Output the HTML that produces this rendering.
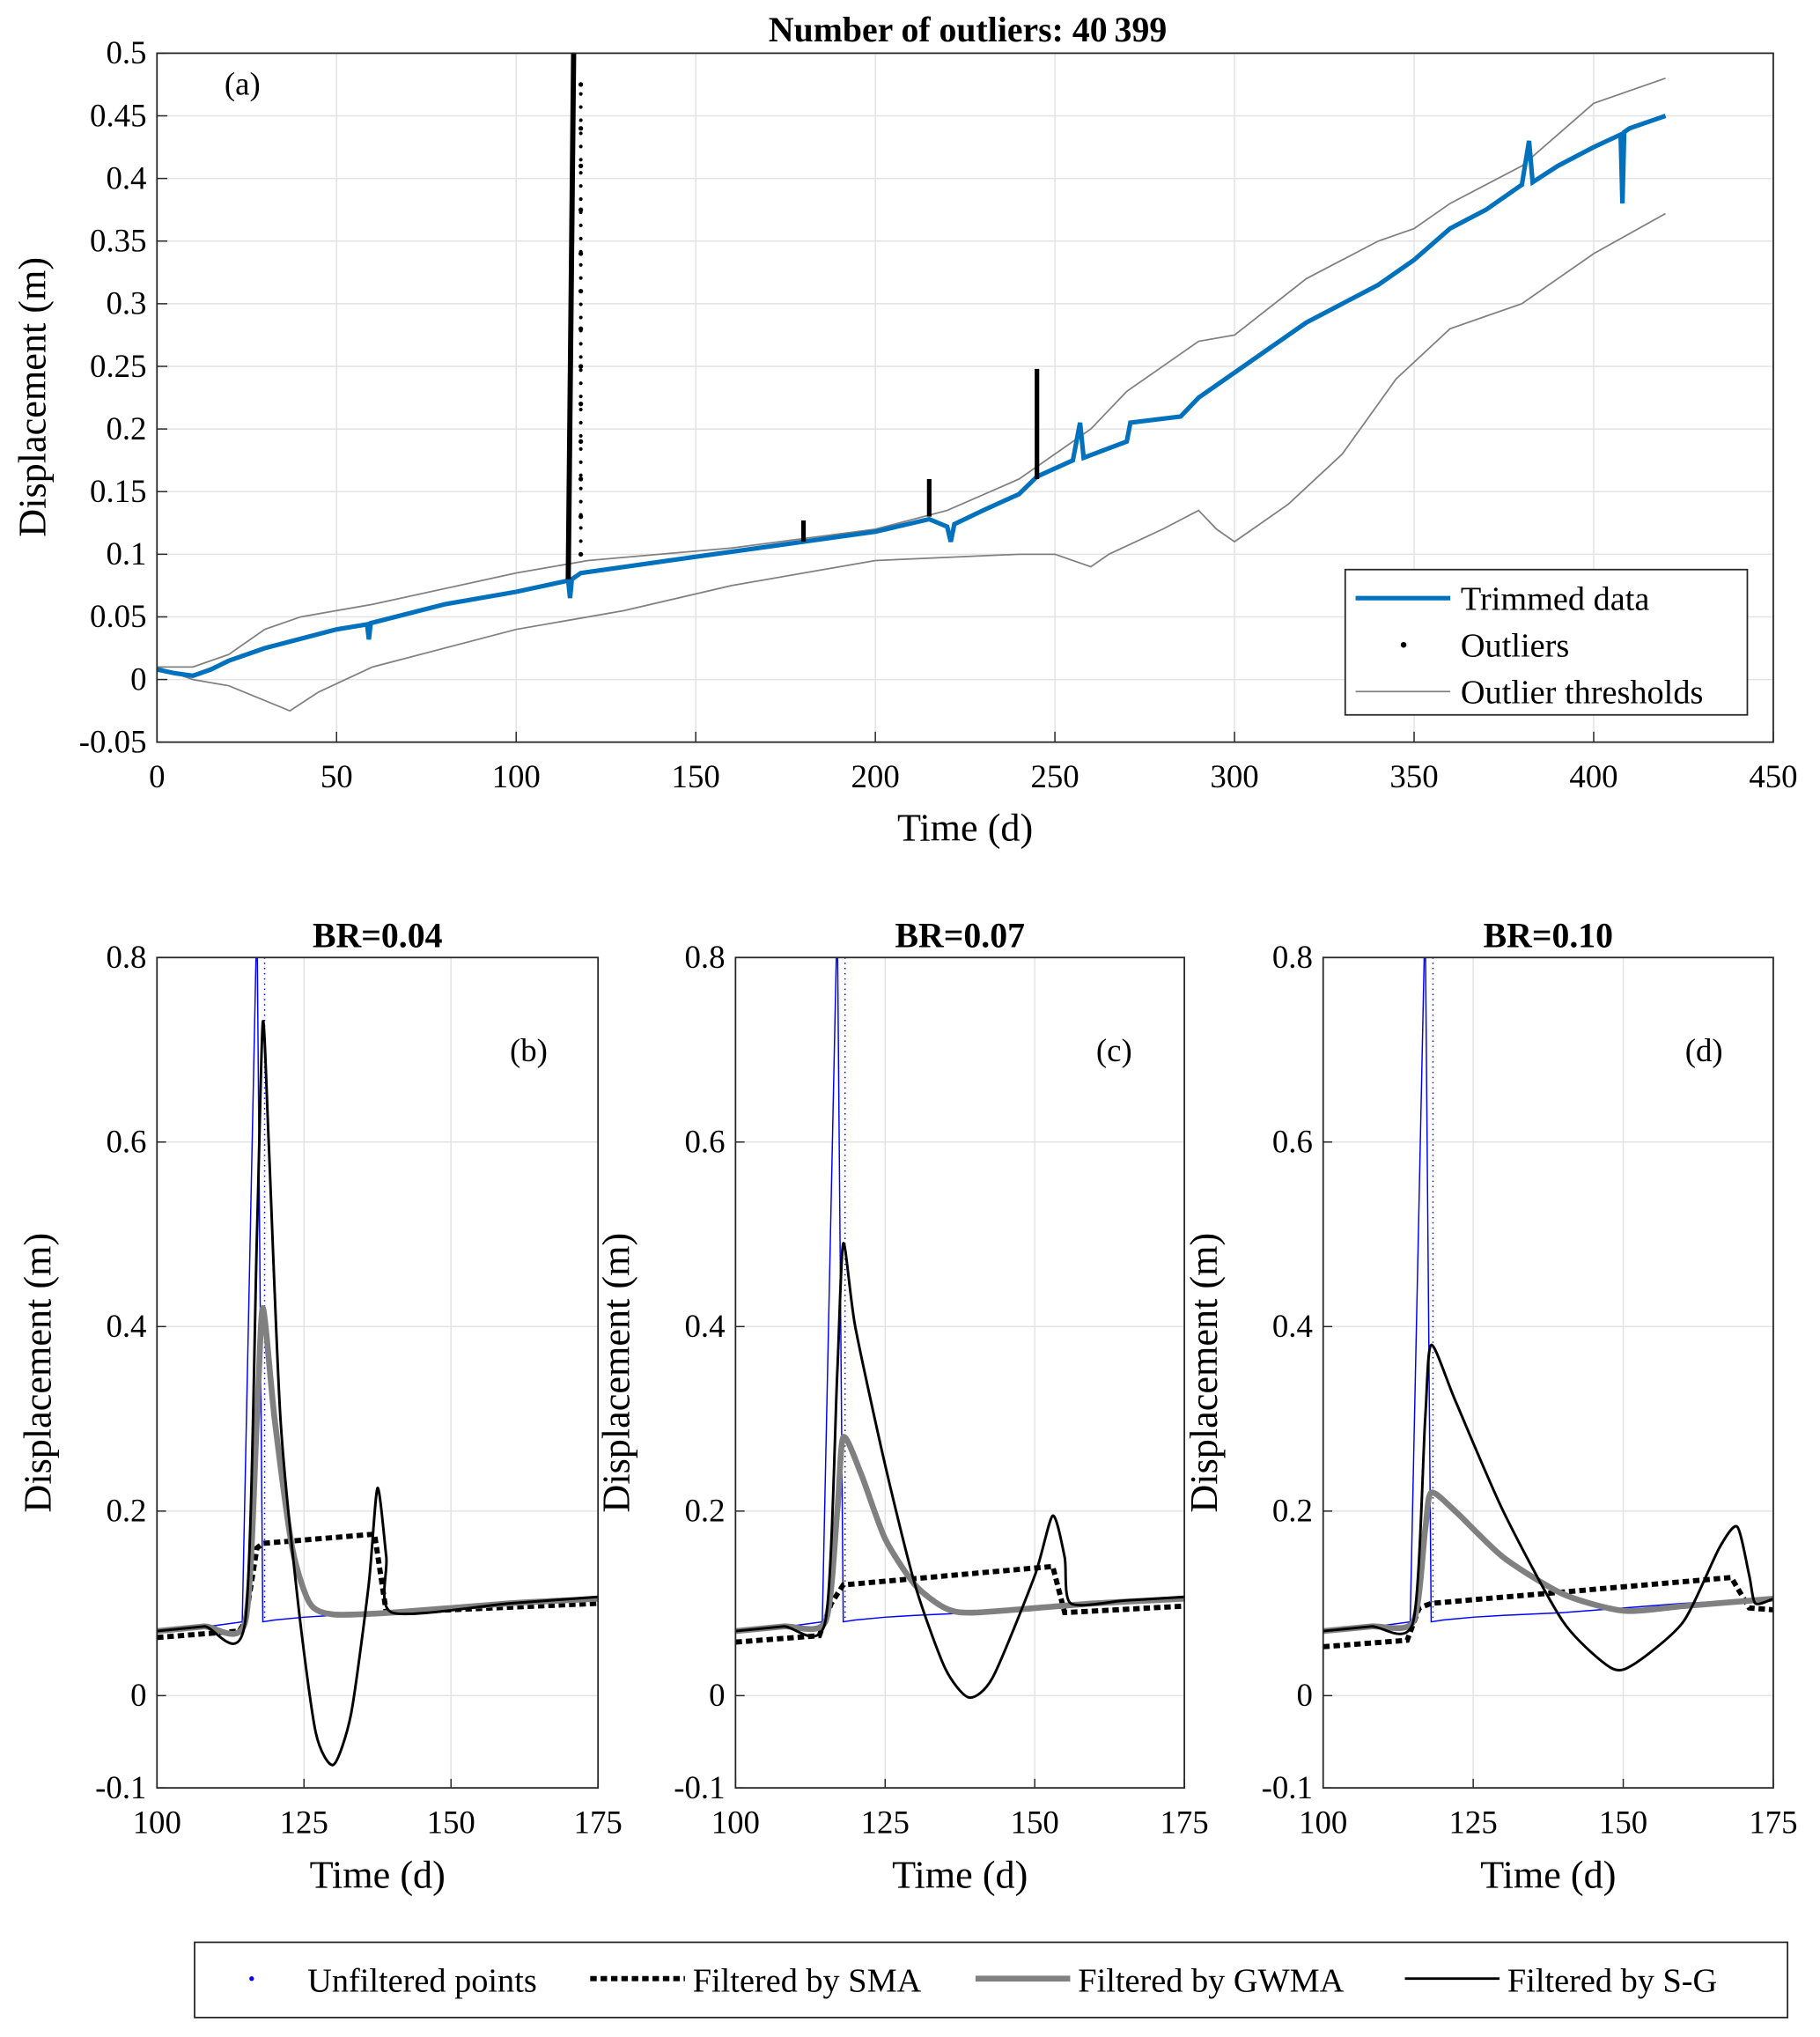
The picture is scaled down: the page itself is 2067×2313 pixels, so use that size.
<!DOCTYPE html>
<html><head><meta charset="utf-8"><style>
html,body{margin:0;padding:0;background:#fff;}
svg{display:block;font-family:"Liberation Serif",serif;}
svg text{font-family:"Liberation Serif",serif;}
</style></head><body>
<svg id="fig" width="2067" height="2313" viewBox="0 0 1403 1570" xmlns="http://www.w3.org/2000/svg" font-family="Liberation Serif, serif"></svg>
<script>
// ---- Panel (a) data ----
const aTrimT=[0,5,10,15,20,30,50,58.5,59,59.5,80,100,114.5,115,115.5,118,150,180,200,215,220,221,222,230,240,245,255,257,258,270,271,285,290,300,310,320,330,340,350,360,370,380,382,383,390,400,407.5,408,408.5,410,420];
const aTrimV=[0.008,0.005,0.003,0.008,0.015,0.025,0.04,0.044,0.032,0.045,0.06,0.07,0.079,0.065,0.08,0.085,0.098,0.11,0.118,0.128,0.122,0.11,0.124,0.135,0.148,0.162,0.175,0.205,0.177,0.19,0.205,0.21,0.225,0.245,0.265,0.285,0.3,0.315,0.335,0.36,0.375,0.395,0.43,0.397,0.41,0.425,0.435,0.38,0.437,0.44,0.45];
const aUpT=[0,10,20,30,40,60,100,120,160,200,220,240,260,270,290,300,320,340,350,360,380,400,410,420];
const aUpV=[0.01,0.01,0.02,0.04,0.05,0.06,0.085,0.095,0.105,0.12,0.135,0.16,0.2,0.23,0.27,0.275,0.32,0.35,0.36,0.38,0.41,0.46,0.47,0.48];
const aLoT=[0,10,20,37,45,60,100,130,160,200,240,250,260,265,280,290,295,300,315,330,345,360,380,400,420];
const aLoV=[0.01,0,-0.005,-0.025,-0.01,0.01,0.04,0.055,0.075,0.095,0.1,0.1,0.09,0.1,0.12,0.135,0.12,0.11,0.14,0.18,0.24,0.28,0.3,0.34,0.372];
const aOutLineT0=[114.5,180,215,245];
const aOutLineT1=[116,180,215,245];
const aOutLo=[0.08,0.11,0.13,0.16];
const aOutHi=[0.5,0.127,0.16,0.248];
const aOutDots=[0.1,0.13,0.16,0.19,0.22,0.25,0.28,0.31,0.34,0.375,0.41,0.44,0.475];
const aTicksX=[0,50,100,150,200,250,300,350,400,450];
const aTicksY=[-0.05,0,0.05,0.1,0.15,0.2,0.25,0.3,0.35,0.4,0.45,0.5];
const aTickLabelsY=["-0.05","0","0.05","0.1","0.15","0.2","0.25","0.3","0.35","0.4","0.45","0.5"];
// ---- Bottom panels data ----
const subTitles=["BR=0.04","BR=0.07","BR=0.10"];
const subTags=["(b)","(c)","(d)"];
const rawT=[100,105,110,114.5,117,118,120,125,130,140,150,160,175];
const rawV=[0.07,0.073,0.076,0.08,0.85,0.08,0.082,0.085,0.087,0.09,0.095,0.1,0.105];
const smaT=[[100,114,115,117,118,137,139,175],[100,114,116,118,153,155,175],[100,114,116,118,168,171,175]];
const smaV=[[0.063,0.07,0.08,0.16,0.165,0.175,0.09,0.1],[0.058,0.065,0.1,0.12,0.14,0.09,0.097],[0.053,0.06,0.095,0.1,0.128,0.095,0.093]];
const gwT=[[100,108,115,117,118,120,123,126,130,140,160,175],[100,108,115,117,118,121,125,130,135,140,160,175],[100,108,115,117,118,122,130,140,150,160,175]];
const gwV=[[0.07,0.075,0.08,0.3,0.42,0.3,0.16,0.1,0.088,0.09,0.1,0.105],[0.07,0.075,0.08,0.2,0.28,0.24,0.17,0.12,0.095,0.09,0.1,0.105],[0.07,0.075,0.08,0.18,0.22,0.2,0.15,0.11,0.092,0.097,0.105]];
const sgT=[[100,108,115,117,118,119,121,124,127,130,133,136,137.5,139,140,160,175],[100,108,115,117,118,120,125,130,135,139,143,150,153,155,156,165,175],[100,108,115,117,118,122,130,140,148,152,160,166,169,171,172,175]];
const sgV=[[0.07,0.075,0.08,0.5,0.73,0.6,0.3,0.1,-0.04,-0.075,-0.02,0.12,0.225,0.15,0.09,0.1,0.107],[0.07,0.075,0.08,0.35,0.49,0.4,0.25,0.12,0.03,-0.002,0.02,0.13,0.195,0.15,0.1,0.103,0.107],[0.07,0.075,0.08,0.3,0.38,0.32,0.2,0.08,0.03,0.035,0.08,0.16,0.183,0.13,0.1,0.105]];
const subTicksX=[100,125,150,175];
const subTicksY=[-0.1,0,0.2,0.4,0.6,0.8];
const subTickLabelsY=["-0.1","0","0.2","0.4","0.6","0.8"];

const NS="http://www.w3.org/2000/svg";
const svg=document.getElementById('fig');
function el(tag,attrs,parent,text){const e=document.createElementNS(NS,tag);for(const k in attrs)e.setAttribute(k,attrs[k]);if(tag==='text')e.setAttribute('font-family','Liberation Serif, serif');if(text!==undefined)e.textContent=text;(parent||svg).appendChild(e);return e;}
function path(xs,ys,sx,sy){return xs.map((t,i)=>(i?'L':'M')+sx(t).toFixed(2)+' '+sy(ys[i]).toFixed(2)).join(' ');}
function smooth(xs,ys,sx,sy){const P=xs.map((t,i)=>[sx(t),sy(ys[i])]);let d='M'+P[0][0].toFixed(2)+' '+P[0][1].toFixed(2);
for(let i=0;i<P.length-1;i++){const p0=P[Math.max(0,i-1)],p1=P[i],p2=P[i+1],p3=P[Math.min(P.length-1,i+2)];const k=0.12;
d+=' C'+(p1[0]+(p2[0]-p0[0])*k).toFixed(2)+' '+(p1[1]+(p2[1]-p0[1])*k).toFixed(2)+' '+(p2[0]-(p3[0]-p1[0])*k).toFixed(2)+' '+(p2[1]-(p3[1]-p1[1])*k).toFixed(2)+' '+p2[0].toFixed(2)+' '+p2[1].toFixed(2);}return d;}

// ---- Panel a ----
{
const L=121,R=1367,T=41,B=572,x0=0,x1=450,y0=-0.05,y1=0.5;
const sx=v=>L+(v-x0)/(x1-x0)*(R-L), sy=v=>B-(v-y0)/(y1-y0)*(B-T);
const g=el('g',{});  
el('defs',{},g).innerHTML='<clipPath id="ca"><rect x="'+L+'" y="'+T+'" width="'+(R-L)+'" height="'+(B-T)+'"/></clipPath>';
aTicksX.forEach(t=>{const l=el('line',{x1:sx(t),x2:sx(t),y1:T,y2:B,stroke:'#e3e3e3','stroke-width':1},g);
const tx=el('text',{x:sx(t),y:B+35,'font-size':25,'text-anchor':'middle'},g,String(t));
el('line',{x1:sx(t),x2:sx(t),y1:B,y2:B-8,stroke:'#262626'},g);});
aTicksY.forEach((t,i)=>{const l=el('line',{x1:L,x2:R,y1:sy(t),y2:sy(t),stroke:'#e3e3e3','stroke-width':1},g);
const tx=el('text',{x:L-8,y:sy(t)+8,'font-size':25,'text-anchor':'end'},g,aTickLabelsY[i]);
el('line',{x1:L,x2:L+8,y1:sy(t),y2:sy(t),stroke:'#262626'},g);});
const cg=el('g',{'clip-path':'url(#ca)'},g);
let p=el('path',{d:path(aUpT,aUpV,sx,sy),fill:'none',stroke:'#808080','stroke-width':1.2},cg);
p=el('path',{d:path(aLoT,aLoV,sx,sy),fill:'none',stroke:'#808080','stroke-width':1.2},cg);
p=el('path',{d:path(aTrimT,aTrimV,sx,sy),fill:'none',stroke:'#0072BD','stroke-width':3.5},cg);
aOutLineT0.forEach((t,i)=>{const l=el('line',{x1:sx(t),x2:sx(aOutLineT1[i]),y1:sy(aOutLo[i]),y2:sy(aOutHi[i]),stroke:'#000','stroke-width':i===0?4:3.5},cg);});
aOutDots.forEach(v=>{const c=el('circle',{cx:sx(118),cy:sy(v),r:1.8,fill:'#000'},cg);});
for(let v=0.1;v<0.47;v+=0.0105){el('circle',{cx:sx(118),cy:sy(v),r:1.4,fill:'#000'},cg);}
el('rect',{x:L,y:T,width:R-L,height:B-T,fill:'none',stroke:'#262626','stroke-width':1.2},g);
let t=el('text',{x:746,y:32,'font-size':27,'font-weight':'bold','text-anchor':'middle'},g,'Number of outliers: 40\u2009399');
t=el('text',{x:744,y:648,'font-size':30,'text-anchor':'middle'},g,'Time (d)');
t=el('text',{x:35,y:306,'font-size':30,'text-anchor':'middle',transform:'rotate(-90 35 306)'},g,'Displacement (m)');
t=el('text',{x:173,y:73,'font-size':25},g,'(a)');
const lg=el('g',{},g);
el('rect',{x:1037,y:439,width:310,height:112,fill:'#fff',stroke:'#262626','stroke-width':1.2},lg);
el('line',{x1:1045,x2:1118,y1:461,y2:461,stroke:'#0072BD','stroke-width':3.5},lg);
el('circle',{cx:1082,cy:497,r:2.2,fill:'#000'},lg);
el('line',{x1:1045,x2:1118,y1:533,y2:533,stroke:'#808080','stroke-width':1.2},lg);
[['Trimmed data',470],['Outliers',506],['Outlier thresholds',542]].forEach(a=>{const e=el('text',{x:1126,y:a[1],'font-size':26},lg,a[0]);});
}
// ---- Bottom panels ----
const boxes=[[121,461],[567,913],[1020,1367]];
boxes.forEach((bx,k)=>{
const L=bx[0],R=bx[1],T=738,B=1378,x0=100,x1=175,y0=-0.1,y1=0.8;
const sx=v=>L+(v-x0)/(x1-x0)*(R-L), sy=v=>B-(v-y0)/(y1-y0)*(B-T);
const g=el('g',{});
el('defs',{},g).innerHTML='<clipPath id="cp'+k+'"><rect x="'+L+'" y="'+T+'" width="'+(R-L)+'" height="'+(B-T)+'"/></clipPath>';
subTicksX.forEach(t=>{el('line',{x1:sx(t),x2:sx(t),y1:T,y2:B,stroke:'#e3e3e3'},g);
const e=el('text',{x:sx(t),y:B+35,'font-size':25,'text-anchor':'middle'},g,String(t));
el('line',{x1:sx(t),x2:sx(t),y1:B,y2:B-7,stroke:'#262626'},g);});
subTicksY.forEach((t,i)=>{el('line',{x1:L,x2:R,y1:sy(t),y2:sy(t),stroke:'#e3e3e3'},g);
const e=el('text',{x:L-8,y:sy(t)+8,'font-size':25,'text-anchor':'end'},g,subTickLabelsY[i]);
el('line',{x1:L,x2:L+7,y1:sy(t),y2:sy(t),stroke:'#262626'},g);});
const cg=el('g',{'clip-path':'url(#cp'+k+')'},g);
let p=el('path',{d:path(rawT,rawV,sx,sy),fill:'none',stroke:'#0000ff','stroke-width':1},cg);
el('line',{x1:sx(118.3),x2:sx(118.3),y1:sy(0.8),y2:sy(0.08),stroke:'#0000ff','stroke-width':1,'stroke-dasharray':'1 3'},cg);
p=el('path',{d:path(smaT[k],smaV[k],sx,sy),fill:'none',stroke:'#000','stroke-width':4,'stroke-dasharray':'5 3'},cg);
p=el('path',{d:smooth(gwT[k],gwV[k],sx,sy),fill:'none',stroke:'#808080','stroke-width':4.5},cg);
p=el('path',{d:smooth(sgT[k],sgV[k],sx,sy),fill:'none',stroke:'#000','stroke-width':2},cg);
el('rect',{x:L,y:T,width:R-L,height:B-T,fill:'none',stroke:'#262626','stroke-width':1.2},g);
let t=el('text',{x:(L+R)/2,y:730,'font-size':27,'font-weight':'bold','text-anchor':'middle'},g,subTitles[k]);
t=el('text',{x:R-68,y:818,'font-size':25},g,subTags[k]);
t=el('text',{x:(L+R)/2,y:1455,'font-size':30,'text-anchor':'middle'},g,'Time (d)');
const ax=L-82;
t=el('text',{x:ax,y:1058,'font-size':30,'text-anchor':'middle',transform:'rotate(-90 '+ax+' 1058)'},g,'Displacement (m)');
});
// ---- Bottom legend ----
{
const lg=el('g',{});
el('rect',{x:150,y:1497,width:1228,height:58,fill:'#fff',stroke:'#262626','stroke-width':1.2},lg);
el('circle',{cx:194,cy:1525,r:1.8,fill:'#0000ff'},lg);
el('line',{x1:455,x2:528,y1:1525,y2:1525,stroke:'#000','stroke-width':4,'stroke-dasharray':'5 3'},lg);
el('line',{x1:752,x2:825,y1:1525,y2:1525,stroke:'#808080','stroke-width':4.5},lg);
el('line',{x1:1083,x2:1156,y1:1525,y2:1525,stroke:'#000','stroke-width':2},lg);
[['Unfiltered points',237],['Filtered by SMA',534],['Filtered by GWMA',831],['Filtered by S-G',1162]].forEach(a=>{const e=el('text',{x:a[1],y:1535,'font-size':26},lg,a[0]);});
}
</script>
</body></html>
